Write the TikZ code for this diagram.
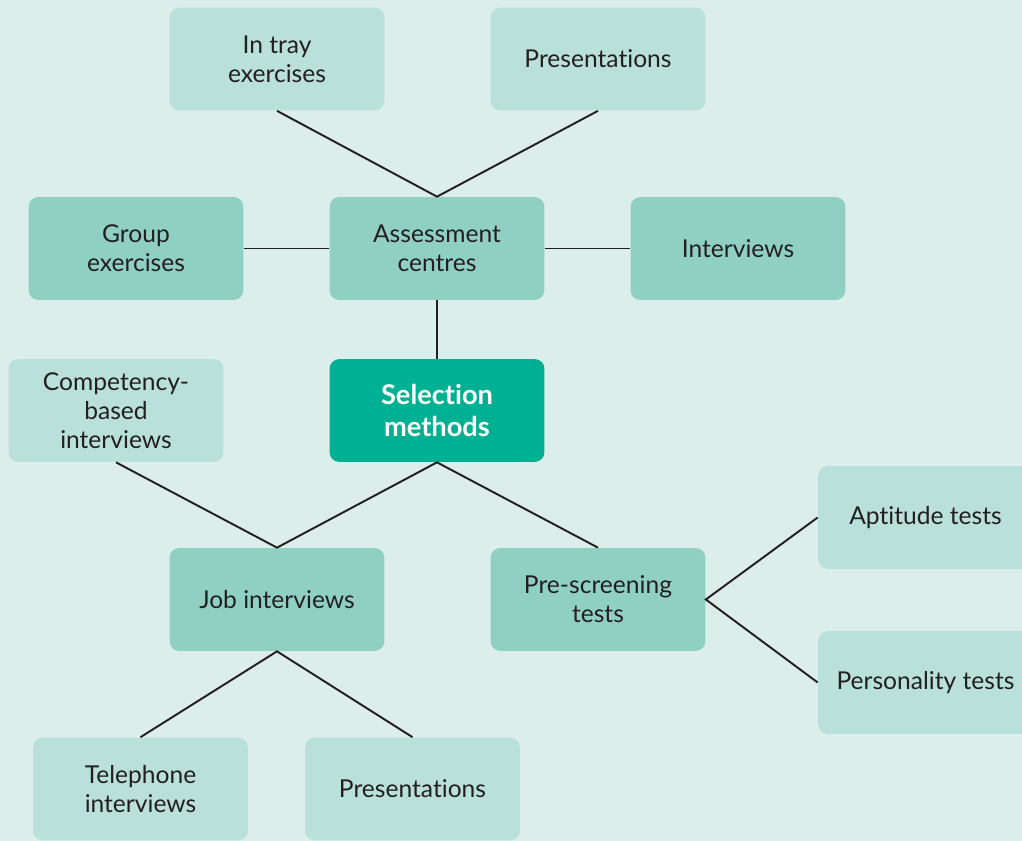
\documentclass[tikz,border=0pt]{standalone}
\usepackage{fontspec}
\setmainfont{Lato}[Ligatures={NoCommon}]
\definecolor{bgmint}{HTML}{DCEEE9}
\definecolor{boxlight}{HTML}{B9E1D9}
\definecolor{boxmid}{HTML}{8FD0C3}
\definecolor{boxdark}{HTML}{00B092}
\definecolor{inkline}{HTML}{231F20}
\begin{document}
\begin{tikzpicture}[x=0.02cm,y=-0.02cm,
  card/.style={rounded corners=0.2cm, minimum width=4.3cm, minimum height=2.06cm,
    align=center, text=inkline, inner sep=0pt, font=\fontsize{14}{16.5}\selectfont},
  lightcard/.style={card, fill=boxlight},
  midcard/.style={card, fill=boxmid},
  hubcard/.style={card, fill=boxdark, text=white, font=\fontsize{15.5}{18.5}\selectfont\bfseries},
  link/.style={draw=inkline, line width=1.1pt}]
\path[use as bounding box, clip] (0,0) rectangle (1022,841);
\fill[bgmint] (0,0) rectangle (1022,841);

% top row
\node[lightcard] (tray)  at (277,59)  {In tray\\exercises};
\node[lightcard] (pres1) at (598,59)  {Presentations};
% assessment row
\node[midcard] (group)  at (136,248.5) {Group\\exercises};
\node[midcard] (assess) at (437,248.5) {Assessment\\centres};
\node[midcard] (intv)   at (738,248.5) {Interviews};
% centre row
\node[lightcard] (comp) at (116,410.5) {Competency-\\based\\interviews};
\node[hubcard]   (sel)  at (437,410.5) {Selection\\methods};
% lower rows
\node[midcard] (job) at (277,599.5) {Job interviews};
\node[midcard] (pre) at (598,599.5) {Pre-screening\\tests};
\node[lightcard] (apt)  at (925.5,517.5) {Aptitude tests};
\node[lightcard] (pers) at (925.5,682.5) {Personality tests};
\node[lightcard] (tel)   at (140.5,789) {Telephone\\interviews};
\node[lightcard] (pres2) at (412.5,789) {Presentations};

% connectors
\draw[link] (tray.south) -- (assess.north) -- (pres1.south);
\draw[link] (group.east) -- (assess.west);
\draw[link] (assess.east) -- (intv.west);
\draw[link] (assess.south) -- (sel.north);
\draw[link] (comp.south) -- (job.north) -- (sel.south) -- (pre.north);
\draw[link] (tel.north) -- (job.south) -- (pres2.north);
\draw[link] (apt.west) -- (pre.east) -- (pers.west);
\end{tikzpicture}
\end{document}
